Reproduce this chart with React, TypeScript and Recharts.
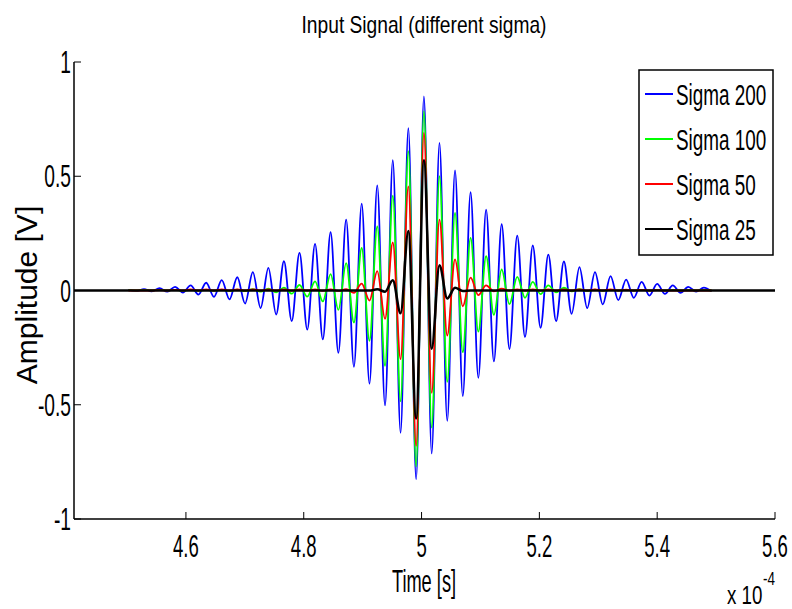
import React from "react";
import { LineChart, Line, XAxis, YAxis, Legend } from "recharts";

const FONT = "'Liberation Sans', Arial, sans-serif";

// time in units of 1e-4 s (extrema of the carrier, plus the two plot ends)
const time = [
  4.41,
  4.5024, 4.5156, 4.5288, 4.542, 4.5552, 4.5684, 4.5816, 4.5948, 4.608, 4.6212,
  4.6344, 4.6476, 4.6608, 4.674, 4.6872, 4.7004, 4.7136, 4.7268, 4.74, 4.7532,
  4.7664, 4.7796, 4.7928, 4.806, 4.8192, 4.8324, 4.8456, 4.8588, 4.872, 4.8852,
  4.8984, 4.9116, 4.9248, 4.938, 4.9512, 4.9644, 4.9776, 4.9908, 5.004, 5.0172,
  5.0304, 5.0436, 5.0568, 5.07, 5.0832, 5.0964, 5.1096, 5.1228, 5.136, 5.1492,
  5.1624, 5.1756, 5.1888, 5.202, 5.2152, 5.2284, 5.2416, 5.2548, 5.268, 5.2812,
  5.2944, 5.3076, 5.3208, 5.334, 5.3472, 5.3604, 5.3736, 5.3868, 5.4, 5.4132,
  5.4264, 5.4396, 5.4528, 5.466, 5.4792, 5.4924,
  5.6,
];

const sigma200 = [
  null,
  0.003, -0.002, 0.006, -0.004, 0.01, -0.005, 0.016, -0.009, 0.022, -0.018,
  0.034, -0.028, 0.045, -0.039, 0.058, -0.057, 0.08, -0.077, 0.099, -0.105,
  0.128, -0.134, 0.165, -0.171, 0.204, -0.214, 0.255, -0.273, 0.31, -0.334,
  0.38, -0.408, 0.46, -0.503, 0.57, -0.623, 0.71, -0.827, 0.85, -0.713,
  0.646, -0.57, 0.526, -0.462, 0.43, -0.382, 0.354, -0.31, 0.29, -0.256,
  0.24, -0.203, 0.197, -0.163, 0.157, -0.134, 0.127, -0.102, 0.102, -0.077,
  0.08, -0.061, 0.063, -0.042, 0.048, -0.032, 0.038, -0.022, 0.029, -0.015,
  0.022, -0.01, 0.016, -0.005, 0.013, -0.003,
  null,
];

const sigma100 = [
  null,
  0.003, 0, 0.003, 0, 0.003, 0, 0.003, -0.001, 0.003, -0.001,
  0.003, -0.001, 0.003, -0.002, 0.004, -0.003, 0.006, -0.005, 0.008, -0.008,
  0.013, -0.014, 0.024, -0.027, 0.04, -0.048, 0.072, -0.085, 0.12, -0.14,
  0.186, -0.22, 0.28, -0.33, 0.415, -0.485, 0.61, -0.77, 0.785, -0.6,
  0.5, -0.4, 0.34, -0.27, 0.23, -0.18, 0.15, -0.107, 0.092, -0.06,
  0.06, -0.032, 0.038, -0.016, 0.022, -0.008, 0.012, -0.004, 0.006, -0.002,
  0.004, -0.001, 0.003, 0, 0.003, 0, 0.003, 0, 0.003, 0,
  0.003, 0, 0.003, 0, 0.003, 0,
  null,
];

const sigma50 = [
  null,
  0, 0, 0, 0, 0.002, 0, 0.003, 0, 0.005, 0,
  0.005, 0, 0.005, 0, 0.005, 0, 0.005, 0, 0.005, 0,
  0.005, 0, 0.005, 0, 0.005, -0.001, 0.005, -0.002, 0.006, -0.01,
  0.03, -0.044, 0.085, -0.124, 0.21, -0.3, 0.456, -0.68, 0.69, -0.448,
  0.31, -0.197, 0.136, -0.069, 0.056, -0.02, 0.022, -0.004, 0.008, 0,
  0.005, 0, 0.005, 0, 0.005, 0, 0.005, 0, 0.005, 0,
  0.005, 0, 0.005, 0, 0.004, 0, 0.003, 0, 0.002, 0,
  0, 0, 0, 0, 0, 0,
  null,
];

const sigma25 = [
  0,
  0, 0, 0, 0, 0, 0, 0, 0, 0, 0,
  0, 0, 0, 0, 0, 0, 0, 0, 0, 0,
  0, 0, 0, 0, 0, 0, 0, 0, 0, 0,
  0, 0, 0.005, -0.005, 0.045, -0.1, 0.26, -0.56, 0.57, -0.255,
  0.11, -0.035, 0.012, -0.002, 0, 0, 0, 0, 0, 0,
  0, 0, 0, 0, 0, 0, 0, 0, 0, 0,
  0, 0, 0, 0, 0, 0, 0, 0, 0, 0,
  0, 0, 0, 0, 0, 0,
  0,
];

const seriesNames = ["Sigma 200", "Sigma 100", "Sigma 50", "Sigma 25"];
const seriesColors = ["#0000ff", "#00ff00", "#ff0000", "#000000"];
const xTicks = [4.6, 4.8, 5, 5.2, 5.4, 5.6];
const yTicks = [-1, -0.5, 0, 0.5, 1];

const data = time.map((t, i) => ({
  t,
  s200: sigma200[i],
  s100: sigma100[i],
  s50: sigma50[i],
  s25: sigma25[i],
}));

function XTick({ x, y, payload }: any) {
  return (
    <text
      transform={`translate(${x},${y}) scale(0.58,1)`}
      textAnchor="middle"
      fontSize={32}
      fontFamily={FONT}
      fill="#000"
    >
      {String(payload.value)}
    </text>
  );
}

function YTick({ x, y, payload }: any) {
  return (
    <text
      transform={`translate(${x},${y + 11}) scale(0.6,1)`}
      textAnchor="end"
      fontSize={32}
      fontFamily={FONT}
      fill="#000"
    >
      {String(payload.value)}
    </text>
  );
}

function LegendBox({ payload }: any) {
  // keep the plotting order, not the alphabetical one
  const items = [...(payload || [])].sort(
    (a: any, b: any) => seriesNames.indexOf(a.value) - seriesNames.indexOf(b.value)
  );
  return (
    <svg width={136} height={187} style={{ display: "block" }}>
      <rect x={1} y={1} width={134} height={185} fill="#fff" stroke="#000" strokeWidth={1.5} />
      {items.map((it: any, i: number) => {
        const ly = 25 + i * 45;
        return (
          <g key={it.value}>
            <line x1={7} x2={35} y1={ly} y2={ly} stroke={it.color} strokeWidth={2} />
            <text
              transform={`translate(38,${ly + 11}) scale(0.63,1)`}
              fontSize={30}
              fontFamily={FONT}
              fill="#000"
            >
              {it.value}
            </text>
          </g>
        );
      })}
    </svg>
  );
}

export default function App() {
  const axisLine = { stroke: "#000", strokeWidth: 1.5 };
  const tickLine = { stroke: "#000", strokeWidth: 1 };
  return (
    <div style={{ position: "absolute", left: 0, top: 0, width: 792, height: 609, background: "#fff" }}>
      <LineChart
        width={792}
        height={609}
        data={data}
        margin={{ top: 62, right: 17, bottom: 0, left: 0 }}
      >
        <XAxis
          dataKey="t"
          type="number"
          domain={[4.41, 5.6]}
          ticks={xTicks}
          allowDataOverflow
          height={90}
          axisLine={axisLine}
          tickLine={tickLine}
          tickSize={-7}
          tickMargin={45}
          tick={<XTick />}
        />
        <XAxis
          xAxisId="top"
          orientation="top"
          dataKey="t"
          type="number"
          domain={[4.41, 5.6]}
          ticks={xTicks}
          allowDataOverflow
          height={0}
          axisLine={axisLine}
          tickLine={tickLine}
          tickSize={-7}
          tick={false}
        />
        <YAxis
          type="number"
          domain={[-1, 1]}
          ticks={yTicks}
          allowDataOverflow
          width={74}
          axisLine={axisLine}
          tickLine={tickLine}
          tickSize={-7}
          tickMargin={10}
          tick={<YTick />}
        />
        <YAxis
          yAxisId="right"
          orientation="right"
          type="number"
          domain={[-1, 1]}
          ticks={yTicks}
          allowDataOverflow
          width={0}
          axisLine={axisLine}
          tickLine={tickLine}
          tickSize={-7}
          tick={false}
        />
        <Legend
          layout="vertical"
          align="center"
          verticalAlign="middle"
          content={<LegendBox />}
          wrapperStyle={{ position: "absolute", left: 638, top: 69, width: 136, height: 187 }}
        />
        <Line dataKey="s200" name={seriesNames[0]} stroke={seriesColors[0]} strokeWidth={1.8} type="monotone" dot={false} isAnimationActive={false} />
        <Line dataKey="s100" name={seriesNames[1]} stroke={seriesColors[1]} strokeWidth={1.8} type="monotone" dot={false} isAnimationActive={false} />
        <Line dataKey="s50" name={seriesNames[2]} stroke={seriesColors[2]} strokeWidth={1.8} type="monotone" dot={false} isAnimationActive={false} />
        <Line dataKey="s25" name={seriesNames[3]} stroke={seriesColors[3]} strokeWidth={2.5} type="monotone" dot={false} isAnimationActive={false} />
      </LineChart>
      <svg
        width={792}
        height={609}
        style={{ position: "absolute", left: 0, top: 0, pointerEvents: "none" }}
      >
        <text transform="translate(424,33) scale(0.8,1)" textAnchor="middle" fontSize={24} fontFamily={FONT} fill="#000">
          Input Signal (different sigma)
        </text>
        <text transform="translate(424,592) scale(0.57,1)" textAnchor="middle" fontSize={32} fontFamily={FONT} fill="#000">
          Time [s]
        </text>
        <text transform="translate(727,604) scale(0.75,1)" fontSize={25} fontFamily={FONT} fill="#000">
          x 10
        </text>
        <text transform="translate(763,585) scale(0.75,1)" fontSize={18} fontFamily={FONT} fill="#000">
          -4
        </text>
        <text transform="translate(37,295) rotate(-90)" textAnchor="middle" fontSize={30} fontFamily={FONT} fill="#000">
          Amplitude [V]
        </text>
      </svg>
    </div>
  );
}
